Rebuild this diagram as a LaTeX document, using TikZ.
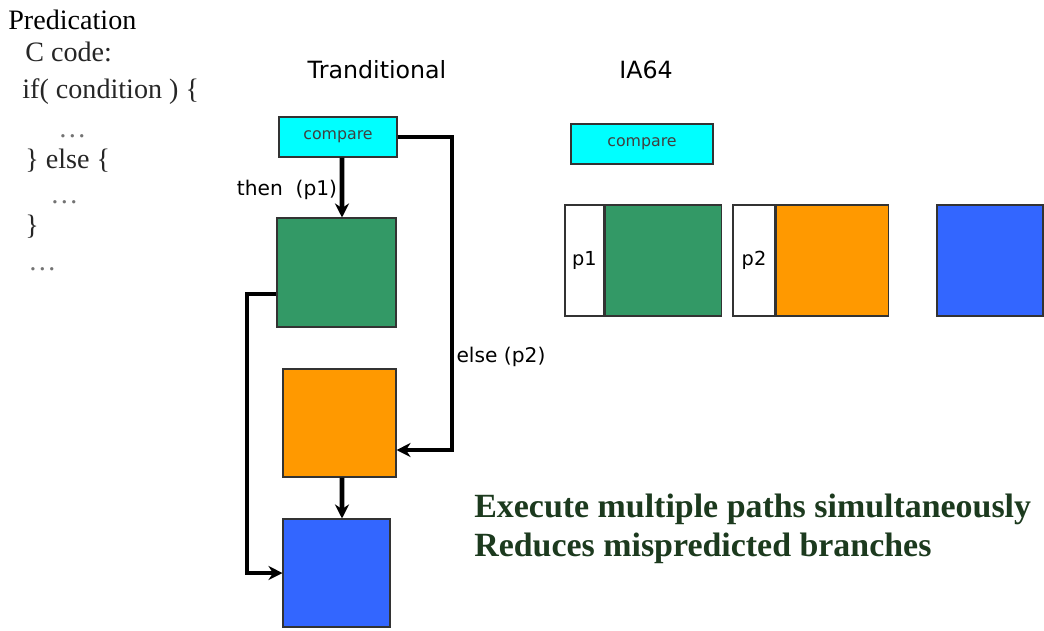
\documentclass[tikz,border=0pt]{standalone}
\usepackage{fontspec}
\setmainfont{Liberation Serif}
\newfontfamily\handfont{DejaVu Sans}
\usetikzlibrary{positioning,arrows.meta}
\definecolor{cmpcyan}{RGB}{0,255,255}
\definecolor{thengreen}{RGB}{51,153,102}
\definecolor{elseorange}{RGB}{255,153,0}
\definecolor{joinblue}{RGB}{51,102,255}
\definecolor{notegreen}{RGB}{28,58,30}

\begin{document}
\begin{tikzpicture}[
  x=0.02cm, y=-0.02cm,
  blk/.style={rectangle, draw=black!80, line width=0.6pt, inner sep=0pt},
  cmpbox/.style={blk, fill=cmpcyan, minimum height=0.8cm, font=\handfont\fontsize{9}{10}\selectfont, text=black!75},
  predbox/.style={blk, fill=white, minimum height=2.22cm, font=\handfont\fontsize{11}{12}\selectfont},
  flow/.style={-{Stealth[length=8pt,width=8pt]}, line width=2.7pt},
  code/.style={anchor=base west, inner sep=0pt, font=\fontsize{16}{18}\selectfont, text=black!85},
  hand/.style={inner sep=0pt, font=\handfont\fontsize{11.5}{13}\selectfont}
]
  \useasboundingbox (0,0) rectangle (1044,630);

  % C code on the left
  \node[code,text=black] (title) at (8,29) {Predication};
  \node[code] (c1) at (25,61) {C code:};
  \node[code] (c2) at (22,98) {if( condition ) \{};
  \node[code,text=black!55] (c3) at (58,137) {\ldots};
  \node[code] (c4) at (25,168) {\} else \{};
  \node[code,text=black!55] (c5) at (50,203) {\ldots};
  \node[code] (c6) at (25,234) {\}};
  \node[code,text=black!55] (c7) at (28,270) {\ldots};

  % traditional branch
  \node[hand,font=\handfont\fontsize{13.5}{15}\selectfont] (trad) at (377,70) {Tranditional};
  \node[cmpbox,minimum width=2.36cm] (cmpA) at (338,137) {compare};
  \node[blk,fill=thengreen,minimum width=2.38cm,minimum height=2.18cm] (thenblk) at (336.5,272.5) {};
  \node[blk,fill=elseorange,minimum width=2.26cm,minimum height=2.16cm] (elseblk) at (339.5,423) {};
  \node[blk,fill=joinblue,minimum width=2.14cm,minimum height=2.16cm] (joinblk) at (336.5,573) {};
  \node[hand] (thenlbl) at (287,190) {then\ \ (p1)};
  \node[hand] (elselbl) at (501,357) {else (p2)};
  \coordinate (elsebend) at (452,450);
  \coordinate (joinbend) at (247,573);

  \draw[flow] ([xshift=0.08cm]cmpA.south) -- ([xshift=0.11cm]thenblk.north);
  \draw[flow] (cmpA.east) -| (elsebend) -- (elseblk.east |- elsebend);
  \draw[flow] ([yshift=-0.43cm]thenblk.west) -| (joinbend) -- (joinblk.west);
  \draw[flow] ([xshift=0.05cm]elseblk.south) -- ([xshift=0.11cm]joinblk.north);

  % IA64 predicated version
  \node[hand,font=\handfont\fontsize{13.5}{15}\selectfont] (ia) at (646,70) {IA64};
  \node[cmpbox,minimum width=2.84cm] (cmpB) at (642,144) {compare};
  \node[predbox,minimum width=0.78cm] (pA) at (584.5,260.5) {p1};
  \node[blk,fill=thengreen,minimum width=2.32cm,minimum height=2.22cm,right=0pt of pA] (thenB) {};
  \node[predbox,minimum width=0.84cm] (pB) at (754,260.5) {p2};
  \node[blk,fill=elseorange,minimum width=2.24cm,minimum height=2.22cm,right=0pt of pB] (elseB) {};
  \node[blk,fill=joinblue,minimum width=2.12cm,minimum height=2.22cm] (joinB) at (990,260.5) {};

  % notes
  \node[anchor=base west,inner sep=0pt,font=\bfseries\fontsize{19.3}{22}\selectfont,text=notegreen] (note1) at (474,517) {Execute multiple paths simultaneously};
  \node[anchor=base west,inner sep=0pt,font=\bfseries\fontsize{19.3}{22}\selectfont,text=notegreen] (note2) at (474,556) {Reduces mispredicted branches};
\end{tikzpicture}
\end{document}
